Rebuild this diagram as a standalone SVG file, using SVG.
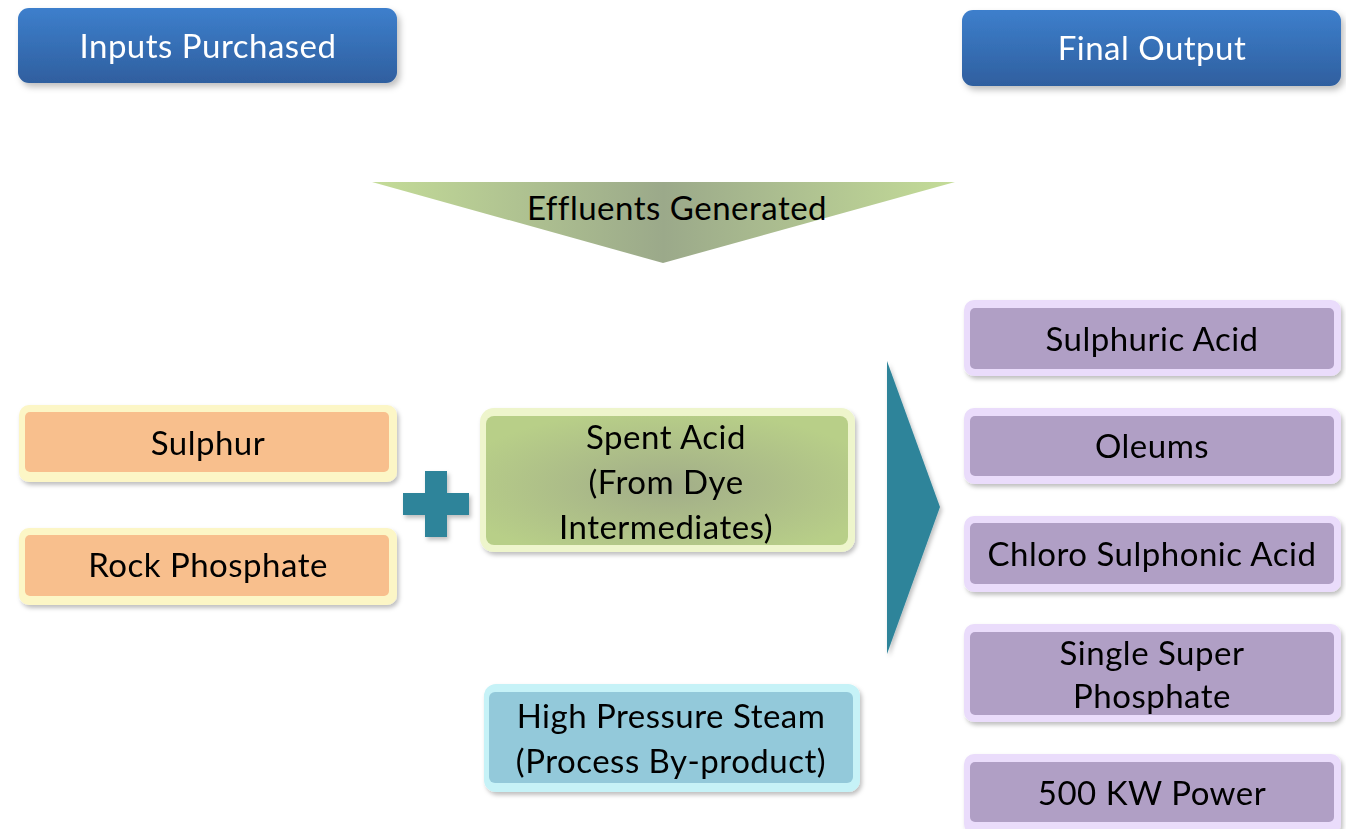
<svg xmlns="http://www.w3.org/2000/svg" width="1346" height="829" viewBox="0 0 1346 829">
<defs>
<linearGradient id="gBlue" x1="0" y1="0" x2="0" y2="1"><stop offset="0" stop-color="#3d7fcc"/><stop offset="1" stop-color="#2f5f9f"/></linearGradient>
<linearGradient id="gEff" x1="0" y1="0" x2="1" y2="0"><stop offset="0" stop-color="#c4dc98"/><stop offset="0.5" stop-color="#9ba98a"/><stop offset="1" stop-color="#c4dc98"/></linearGradient>
<radialGradient id="gSpent" cx="0.5" cy="0.55" r="0.6"><stop offset="0" stop-color="#a2ad89"/><stop offset="1" stop-color="#b8cf88"/></radialGradient>
<filter id="sh" x="-10%" y="-20%" width="125%" height="150%"><feDropShadow dx="3" dy="4" stdDeviation="3" flood-color="#000" flood-opacity="0.25"/></filter>
<filter id="sh2" x="-10%" y="-10%" width="130%" height="130%"><feDropShadow dx="2" dy="3" stdDeviation="2" flood-color="#000" flood-opacity="0.25"/></filter>
</defs>
<style>
text{font-family:Lato,"Open Sans","DejaVu Sans",sans-serif;font-size:33px;letter-spacing:0.5px;text-anchor:middle;fill:#000}
.w{fill:#fff}
.orG{fill:#fcf6c6}.or{fill:#f8bf8d}
.puG{fill:#eadcfb}.pu{fill:#b09fc5}
.cyG{fill:#c6f2f7}.cy{fill:#93c9da}
.spG{fill:#eef5cc}
</style>
<g id="inputs-purchased" filter="url(#sh)"><rect x="18" y="8" width="379" height="75" rx="11" fill="url(#gBlue)"/><text class="w" x="208" y="58">Inputs Purchased</text></g>
<g id="final-output" filter="url(#sh)"><rect x="962" y="10" width="379" height="76" rx="11" fill="url(#gBlue)"/><text class="w" x="1152" y="60">Final Output</text></g>
<g id="effluents"><polygon points="372,182 955,182 663,263" fill="url(#gEff)"/><text x="677" y="220">Effluents Generated</text></g>
<g id="sulphur" filter="url(#sh2)"><rect class="orG" x="19" y="405" width="378" height="77" rx="10"/><rect class="or" x="25" y="412" width="364" height="60" rx="5"/><text x="208" y="455">Sulphur</text></g>
<g id="rock-phosphate" filter="url(#sh2)"><rect class="orG" x="19" y="528" width="378" height="77" rx="10"/><rect class="or" x="25" y="535" width="364" height="61" rx="5"/><text x="208" y="577">Rock Phosphate</text></g>
<g id="plus" filter="url(#sh2)"><path d="M425,471h22v22h22v22h-22v22h-22v-22h-22v-22h22z" fill="#2e849a"/></g>
<g id="spent-acid" filter="url(#sh2)"><rect class="spG" x="480" y="408" width="375" height="144" rx="14"/><rect x="486" y="416" width="362" height="129" rx="8" fill="url(#gSpent)"/><text x="666" y="449">Spent Acid</text><text x="666" y="494">(From Dye</text><text x="666" y="539">Intermediates)</text></g>
<g id="steam" filter="url(#sh2)"><rect class="cyG" x="484" y="684" width="376" height="108" rx="12"/><rect class="cy" x="489" y="692" width="364" height="91" rx="6"/><text x="671" y="728">High Pressure Steam</text><text x="671" y="773">(Process By-product)</text></g>
<g id="connectors"><polygon id="big-arrow" points="887,361 940,507 887,654" fill="#2e849a" filter="url(#sh2)"/></g>
<g id="sulphuric-acid" filter="url(#sh2)"><rect class="puG" x="964" y="300" width="377" height="76" rx="10"/><rect class="pu" x="970" y="308" width="364" height="61" rx="5"/><text x="1152" y="351">Sulphuric Acid</text></g>
<g id="oleums" filter="url(#sh2)"><rect class="puG" x="964" y="408" width="377" height="76" rx="10"/><rect class="pu" x="970" y="416" width="364" height="60" rx="5"/><text x="1152" y="458">Oleums</text></g>
<g id="chloro" filter="url(#sh2)"><rect class="puG" x="964" y="516" width="377" height="76" rx="10"/><rect class="pu" x="970" y="523" width="364" height="61" rx="5"/><text x="1152" y="566">Chloro Sulphonic Acid</text></g>
<g id="ssp" filter="url(#sh2)"><rect class="puG" x="964" y="624" width="377" height="98" rx="10"/><rect class="pu" x="970" y="632" width="364" height="83" rx="5"/><text x="1152" y="665">Single Super</text><text x="1152" y="708">Phosphate</text></g>
<g id="power" filter="url(#sh2)"><rect class="puG" x="964" y="754" width="377" height="80" rx="10"/><rect class="pu" x="970" y="762" width="364" height="60" rx="5"/><text x="1152" y="805">500 KW Power</text></g>
</svg>
